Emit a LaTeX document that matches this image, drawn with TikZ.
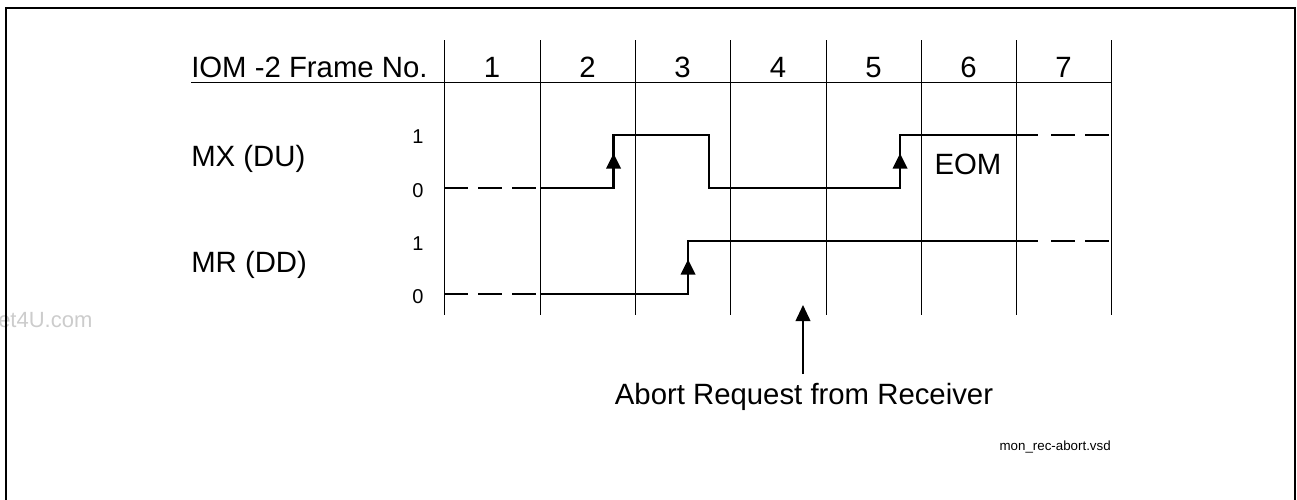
\documentclass[tikz,border=0pt]{standalone}
\usepackage{fontspec}
\setmainfont{Liberation Sans}
\usetikzlibrary{arrows.meta}
\newcommand{\riseMark}[2]{\fill (#1-7.5,#2+7) -- (#1+7.5,#2+7) -- (#1,#2-8) -- cycle;}
\begin{document}
\begin{tikzpicture}[x=0.75pt,y=-0.75pt,
  grid/.style={line width=0.7pt},
  sig/.style={line width=2pt},
  sigdash/.style={line width=2pt,dash pattern=on 18pt off 7.5pt},
  big/.style={font=\fontsize{22}{26}\selectfont,inner sep=0pt},
  lvl/.style={font=\fontsize{15}{18}\selectfont,inner sep=0pt},
  lbl/.style={big,anchor=base west}]
\useasboundingbox (0,0) rectangle (1297,500);
% watermark
\node[anchor=base west,inner sep=0pt,text=black!20,font=\fontsize{16.5}{19}\selectfont] (wm) at (-2,327) {et4U.com};
% frame
\draw[line width=1.5pt] (1295,520) -- (1295,8) -- (6,8) -- (6,520);
% grid
\foreach \i/\x in {0/444,1/540,2/635,3/730,4/826,5/921,6/1016,7/1111}
  \draw[grid] (\x,40) -- (\x,315);
\draw[grid] (191,82) -- (1111,82);
% header
\node[lbl] (hdr) at (191,77) {IOM -2 Frame No.};
\foreach \n/\x in {1/492,2/587.5,3/682.5,4/778,5/873.5,6/968.5,7/1063.5}
  \node[big,anchor=base] (f\n) at (\x,77) {\n};
% signal names
\node[lbl] (mx) at (191,166) {MX (DU)};
\node[lbl] (mr) at (191,272) {MR (DD)};
\node[lvl,anchor=base] (mx1) at (418,143) {1};
\node[lvl,anchor=base] (mx0) at (418,197) {0};
\node[lvl,anchor=base] (mr1) at (418,250) {1};
\node[lvl,anchor=base] (mr0) at (418,303) {0};
% MX waveform
\draw[sigdash] (444,188) -- (540,188);
\draw[sig,line join=miter] (540,188) -- (613.5,188) -- (613.5,135) -- (709,135) -- (709,188) -- (900,188) -- (900,135) -- (1038,135);
\draw[sigdash] (1051,135) -- (1111,135);
\riseMark{613.5}{161.5}
\riseMark{900}{161.5}
\node[big,anchor=base] (eom) at (968,174) {EOM};
% MR waveform
\draw[sigdash] (444,294) -- (540,294);
\draw[sig,line join=miter] (540,294) -- (688,294) -- (688,241) -- (1038,241);
\draw[sigdash] (1051,241) -- (1111,241);
\riseMark{688}{267.5}
% abort request
\node[big,anchor=base] (abort) at (804,404) {Abort Request from Receiver};
\coordinate (abtip) at (803,305);
\draw[line width=1.3pt,-{Triangle[length=12pt,width=11pt]}] (803,374) -- (abtip);
% file name
\node[anchor=base east,inner sep=0pt,font=\fontsize{10}{12}\selectfont] (fn) at (1111,450) {mon\_rec-abort.vsd};
\end{tikzpicture}
\end{document}
